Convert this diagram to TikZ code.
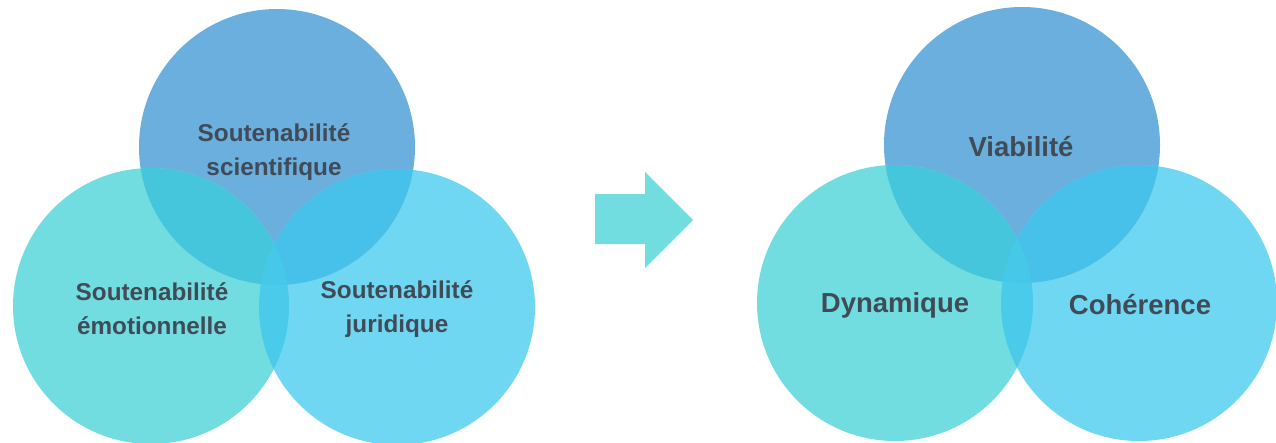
\documentclass[tikz,border=0pt]{standalone}
\usepackage{fontspec}
\setmainfont{Liberation Sans}
\definecolor{ctop}{HTML}{6AAFDE}
\definecolor{cleft}{HTML}{72DDE0}
\definecolor{cright}{HTML}{6FD7F2}
\definecolor{ctl}{HTML}{46C6DC}
\definecolor{ctr}{HTML}{47C0EA}
\definecolor{clr}{HTML}{4ACBEA}
\definecolor{ctri}{HTML}{46C8E8}
\definecolor{ctext}{HTML}{404B57}
\tikzset{
  lbl/.style={text=ctext, font=\bfseries\fontsize{24.3}{34}\selectfont, align=center, inner sep=0pt},
  lblbig/.style={lbl, font=\bfseries\fontsize{27.5}{34}\selectfont},
}
\newcommand{\venn}[4]{%
  \fill[ctop] #1 circle (#4);
  \fill[cleft] #2 circle (#4);
  \fill[cright] #3 circle (#4);
  \begin{scope}\clip #1 circle (#4); \fill[ctl] #2 circle (#4); \end{scope}
  \begin{scope}\clip #1 circle (#4); \fill[ctr] #3 circle (#4); \end{scope}
  \begin{scope}\clip #2 circle (#4); \fill[clr] #3 circle (#4); \end{scope}
  \begin{scope}\clip #1 circle (#4); \clip #2 circle (#4); \fill[ctri] #3 circle (#4); \end{scope}
}
\begin{document}
\begin{tikzpicture}[x=1pt,y=-1pt]
\useasboundingbox (0,0) rectangle (1276,442);
% left group
\coordinate (lt) at (277,147);
\coordinate (ll) at (151,306);
\coordinate (lr) at (397,307);
\venn{(lt)}{(ll)}{(lr)}{138}
% right group
\coordinate (rt) at (1022,145);
\coordinate (rl) at (895,303);
\coordinate (rr) at (1139,303);
\venn{(rt)}{(rl)}{(rr)}{138}
% arrow
\fill[cleft] (595,194) -- (645,194) -- (645,172) -- (693,220) -- (645,268) -- (645,244) -- (595,244) -- cycle;
% labels
\node[lbl] (t1) at (274,152) {Soutenabilité\\scientifique};
\node[lbl] (t2) at (152,309) {Soutenabilité\\émotionnelle};
\node[lbl] (t3) at (397,309) {Soutenabilité\\juridique};
\node[lblbig] (t4) at (1021,147) {Viabilité};
\node[lblbig] (t5) at (895,305) {Dynamique};
\node[lblbig] (t6) at (1140,305) {Cohérence};
\end{tikzpicture}
\end{document}
